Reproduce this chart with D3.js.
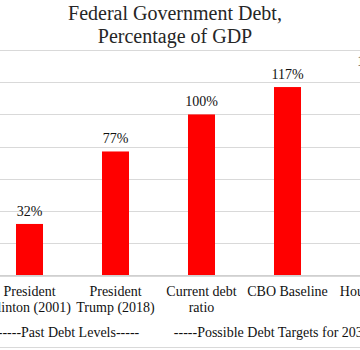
<!DOCTYPE html>
<html>
<head>
<meta charset="utf-8">
<script src="https://cdn.jsdelivr.net/npm/d3@7"></script>
<style>
  body { margin: 0; background: #fff; }
  svg { display: block; }
  svg text { font-family: "Liberation Serif", "Times New Roman", Times, serif; }
</style>
</head>
<body>
<div class="vis"></div>
<script>
// chart data
const categories = ["President Clinton (2001)", "President Trump (2018)", "Current debt ratio", "CBO Baseline", "House GOP plan"];
const debtValues = [32, 77, 100, 117, 125];
const groups = ["-----Past Debt Levels-----", "-----Possible Debt Targets for 2035-----"];
const groupSizes = [2, 3];
const yTicks = [0, 20, 40, 60, 80, 100, 120, 140];
const titleLines = ["Federal Government Debt,", "Percentage of GDP"];

const serif = '"Liberation Serif", "Times New Roman", Times, serif';

drawChart();

function drawChart() {
    const width = 360, height = 350;
    const plot = { left: -13.5, right: 416.5, top: 50, bottom: 275.5 };

    let svg = d3.select('.vis')
        .append("svg")
        .attr("width", width)
        .attr("height", height)
        .style("font-family", serif);

    const x = d3.scaleBand()
        .domain(categories)
        .range([plot.left, plot.right])
        .paddingInner(0.686)
        .paddingOuter(0.343);

    const y = d3.scaleLinear()
        .domain([0, 140])
        .range([plot.bottom, plot.top]);

    // gridlines
    svg.append("g")
        .attr("transform", "translate(" + plot.left + ",0)")
        .call(d3.axisLeft(y).tickValues(yTicks).tickSize(-(plot.right - plot.left)).tickFormat(""))
        .call(g => g.select(".domain").remove())
        .call(g => g.selectAll("line").attr("stroke", "#d9d9d9").attr("shape-rendering", "crispEdges"));

    // bars
    svg.append("g")
        .selectAll("rect")
        .data(debtValues)
        .join("rect")
        .attr("x", (d, i) => x(categories[i]))
        .attr("width", x.bandwidth())
        .attr("y", d => y(d))
        .attr("height", d => y(0) - y(d))
        .attr("fill", "#ff0000");

    // value labels
    svg.append("g")
        .selectAll("text")
        .data(debtValues)
        .join("text")
        .attr("x", (d, i) => x(categories[i]) + x.bandwidth() / 2)
        .attr("y", d => y(d) - 8)
        .attr("text-anchor", "middle")
        .style("font-family", serif)
        .style("font-size", "14px")
        .style("fill", "#111")
        .text(d => d + "%");

    // axis line and bottom border
    svg.append("line")
        .attr("x1", plot.left).attr("x2", plot.right)
        .attr("y1", y(0)).attr("y2", y(0))
        .attr("stroke", "#d0d0d0")
        .attr("shape-rendering", "crispEdges");

    svg.append("line")
        .attr("x1", plot.left).attr("x2", plot.right)
        .attr("y1", 347.5).attr("y2", 347.5)
        .attr("stroke", "#d9d9d9")
        .attr("shape-rendering", "crispEdges");

    // category labels, wrapped to the band
    const catText = svg.append("g")
        .selectAll("text")
        .data(categories)
        .join("text")
        .attr("text-anchor", "middle")
        .style("font-family", serif)
        .style("font-size", "14px")
        .style("fill", "#111");

    catText.each(function (d) {
        const t = d3.select(this);
        const cx = x(d) + x.bandwidth() / 2;
        const lines = wrapWords(t, d, x.step() - 2);
        t.text(null);
        lines.forEach((ln, k) => {
            t.append("tspan")
                .attr("x", cx)
                .attr("y", 296 + k * 16)
                .text(ln);
        });
    });

    // group labels
    let start = 0;
    groups.forEach((g, i) => {
        const first = categories[start];
        const last = categories[start + groupSizes[i] - 1];
        const x0 = x(first) - x.paddingOuter() * x.step();
        const x1 = x(last) + x.bandwidth() + x.paddingOuter() * x.step();
        svg.append("text")
            .attr("x", (x0 + x1) / 2 - 4)
            .attr("y", 337)
            .attr("text-anchor", "middle")
            .style("font-family", serif)
            .style("font-size", "14px")
            .style("fill", "#111")
            .text(g);
        start += groupSizes[i];
    });

    // title
    svg.append("g")
        .selectAll("text")
        .data(titleLines)
        .join("text")
        .attr("x", 175)
        .attr("y", (d, i) => 20 + i * 23)
        .attr("text-anchor", "middle")
        .style("font-family", serif)
        .style("font-size", "20px")
        .style("fill", "#262626")
        .text(d => d);
}

function wrapWords(textSel, str, maxW) {
    const words = str.split(" ");
    const lines = [];
    let cur = "";
    words.forEach(w => {
        const test = cur ? cur + " " + w : w;
        textSel.text(test);
        if (cur && textSel.node().getComputedTextLength() > maxW) {
            lines.push(cur);
            cur = w;
        } else {
            cur = test;
        }
    });
    if (cur) lines.push(cur);
    return lines;
}
</script>
</body>
</html>
